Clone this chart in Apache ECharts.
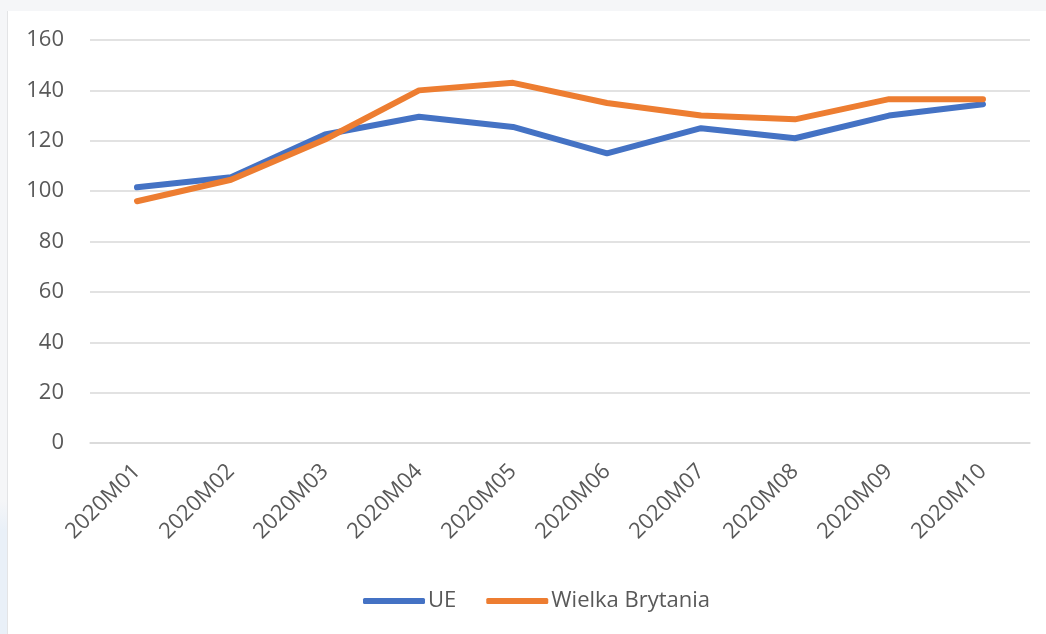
<!DOCTYPE html>
<html>
<head>
<meta charset="utf-8">
<script src="https://cdn.jsdelivr.net/npm/echarts@6/dist/echarts.min.js"></script>
<style>
  html, body { margin: 0; padding: 0; background: #ffffff; }
  #topstrip { position: absolute; left: 0; top: 0; width: 1046px; height: 11px; background: #f5f6f8; }
  #leftstrip { position: absolute; left: 0; top: 0; width: 7px; height: 634px;
    background: linear-gradient(to bottom, #f5f6f8 0px, #f5f6f8 500px, #e9f0f8 530px, #e9f0f8 634px); }
  #leftline { position: absolute; left: 7px; top: 11px; width: 1px; height: 623px; background: #e3e4e6; }
  #chart { position: absolute; left: 0; top: 0; width: 1046px; height: 634px; }
</style>
</head>
<body>
<div id="topstrip"></div>
<div id="leftstrip"></div>
<div id="leftline"></div>
<div id="chart"></div>
<script>
const categories = ['2020M01','2020M02','2020M03','2020M04','2020M05','2020M06','2020M07','2020M08','2020M09','2020M10'];
const seriesNames = ['UE', 'Wielka Brytania'];
const ueValues = [101.5, 105.5, 122.5, 129.5, 125.5, 115, 125, 121, 130, 134.5];
const ukValues = [96, 104.5, 120.5, 140, 143, 135, 130, 128.5, 136.5, 136.5];
const yTicks = [0, 20, 40, 60, 80, 100, 120, 140, 160];

const chart = echarts.init(document.getElementById('chart'), null, { renderer: 'canvas' });
const textColor = '#595959';
const fontFamily = '"Open Sans", sans-serif';
chart.setOption({
  animation: false,
  color: ['#4472C4', '#ED7D31'],
  grid: { left: 90, right: 16, top: 40, bottom: 191, containLabel: false },
  legend: {
    left: 358, top: 585,
    itemWidth: 62, itemHeight: 6, itemGap: 30,
    icon: 'roundRect',
    textStyle: { color: textColor, fontSize: 22, fontFamily: fontFamily, padding: [0, 0, 0, -2] },
    data: seriesNames
  },
  xAxis: {
    type: 'category',
    data: categories,
    boundaryGap: true,
    axisLine: { show: true, lineStyle: { color: '#d9d9d9', width: 1.5 } },
    axisTick: { show: false },
    axisLabel: { rotate: 45, margin: 25, color: textColor, fontSize: 22, fontFamily: fontFamily, interval: 0 }
  },
  yAxis: {
    type: 'value',
    min: yTicks[0], max: yTicks[yTicks.length - 1], interval: 20,
    axisLine: { show: false },
    axisTick: { show: false },
    splitLine: { lineStyle: { color: '#d9d9d9', width: 1.5 } },
    axisLabel: { margin: 26, color: textColor, fontSize: 22, fontFamily: fontFamily }
  },
  series: [
    { name: seriesNames[0], type: 'line', data: ueValues, showSymbol: false, symbol: 'none',
      lineStyle: { width: 6, cap: 'round', join: 'round' } },
    { name: seriesNames[1], type: 'line', data: ukValues, showSymbol: false, symbol: 'none',
      lineStyle: { width: 6, cap: 'round', join: 'round' } }
  ]
});
</script>
</body>
</html>
